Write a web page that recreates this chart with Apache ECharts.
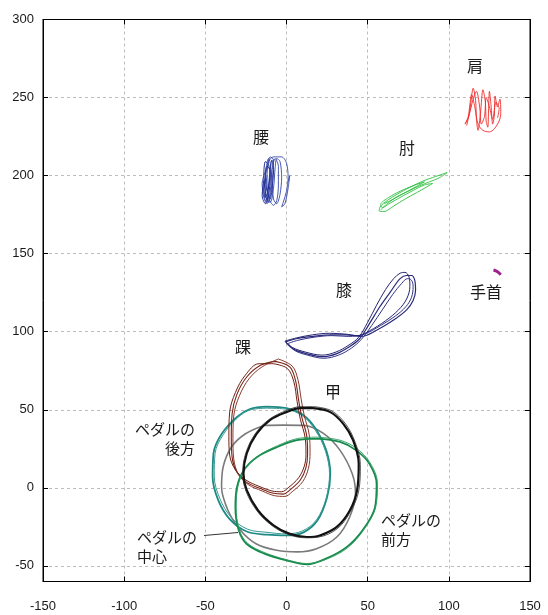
<!DOCTYPE html>
<html>
<head>
<meta charset="utf-8">
<script src="https://cdn.jsdelivr.net/npm/echarts@6/dist/echarts.min.js"></script>
<style>
  html, body { margin: 0; padding: 0; background: #fff; }
  #chart { width: 548px; height: 615px; }
</style>
</head>
<body>
<div id="chart"></div>
<script>
// Axis ticks
const xTicks = [-150, -100, -50, 0, 50, 100, 150];
const yTicks = [-50, 0, 50, 100, 150, 200, 250, 300];

// Joint trajectories over several pedal strokes, [x, y] in mm
const ankleA = [[-7,81],[2,77.5],[5.5,69],[7.5,56],[9.5,45],[12.5,33],[13,22],[12,13],[8.5,5],[2,-1.5],[-2,-4],[-8,-3.5],[-16,-0.5],[-24.5,3.5],[-30.5,10],[-33.5,19.5],[-34,32.5],[-33.5,47.5],[-30.5,60],[-24.5,71],[-16,78.5],[-7,81]];
const ankleB = [[-5,82.5],[3.5,78],[7,69.5],[9,57],[11,46],[14,34],[14.5,22.5],[13.5,12.5],[10,4],[3.5,-2.5],[-1,-5.5],[-7.5,-5],[-15,-2],[-23.5,2],[-29.5,8.5],[-32.5,18.5],[-33,31.5],[-32.5,46],[-29,59],[-23,70],[-15,77.5],[-5,82.5]];
const ankleC = [[-8,79.5],[0.5,76.5],[4.5,68],[6.5,55.5],[8.5,44],[11.5,32],[12,21.5],[11,14],[7.5,6.5],[1,0],[-3,-2.5],[-9,-2],[-17,1],[-25,5],[-31.5,11.5],[-35,21],[-35.5,33],[-35,48.5],[-31.5,61],[-25.5,72],[-17,79.5],[-8,79.5]];

const instepA = [[16.5,51],[27,48.5],[35,41],[41,30.5],[44.5,15.5],[43.5,-1.5],[39,-14.5],[31,-25],[20.5,-30.5],[12.5,-31.5],[2,-29.5],[-8,-24],[-17.5,-14.5],[-24.5,-1.5],[-26.5,9],[-24.5,22],[-18.5,34.5],[-10,43.5],[0,48.5],[8.5,51],[16.5,51]];
const instepB = [[17,52],[27.5,49.5],[36,41.5],[42,30],[45.5,15],[44.5,-2],[39.5,-15],[31.5,-26],[20,-31.5],[12,-32],[1.5,-30],[-8.5,-24.5],[-18,-15],[-25,-2],[-27,9.5],[-25,22.5],[-19,35],[-10.5,44],[0,49.5],[8.5,52],[17,52]];

const pedalRearA = [[-12,52],[0,51],[10.5,46.5],[18.5,37],[24.5,24],[27,9],[25,-6],[19,-21],[10.5,-28.5],[0,-30.5],[-12,-30],[-24.5,-28],[-35,-20],[-42,-8],[-45.5,7],[-45,22],[-40,34.5],[-30.5,45.5],[-22.5,50.5],[-12,52]];
const pedalRearB = [[-12,51],[-1,50.5],[10,46],[18,36.5],[24,23.5],[26.5,9],[24.5,-6.5],[18.5,-20.5],[10,-27.5],[0,-29.5],[-12,-28.5],[-24,-26.5],[-34,-19],[-41,-7],[-44.5,7.5],[-44,22],[-39,34],[-30,45],[-22,50],[-12,51]];

const pedalCenter = [[-14,40],[-2,40.2],[10.5,40],[22.5,35],[33,24],[40.5,9],[42.5,-3.5],[39,-18.5],[31,-31.5],[18.5,-39],[6.5,-41],[-6,-40],[-18.5,-36],[-28.5,-27],[-36,-14.5],[-40,0.5],[-39,13.5],[-34,26],[-25.5,34.5],[-14,40]];

const pedalFrontA = [[18.5,31.5],[33,29.4],[43,24],[51,15.5],[55.5,2.5],[54.5,-12.5],[47,-27],[37,-38],[25,-45],[12.5,-49],[0,-46.5],[-14,-42],[-24.5,-36],[-29.5,-27],[-31.5,-12.5],[-30.5,0.5],[-26.5,11],[-18.5,19.5],[-6,26],[6.5,30.5],[18.5,31.5]];
const pedalFrontB = [[18,32.5],[33,30.5],[43.5,25],[51.5,16],[56,3],[55,-12],[47.5,-27],[37.5,-38.5],[25,-45.5],[12.5,-48.5],[0,-46],[-13.5,-41.5],[-24,-35.5],[-29,-27],[-31,-12.5],[-30,0.5],[-26,11.5],[-18,20],[-5.5,27],[6.5,31.5],[18,32.5]];

const kneeA = [[-0.5,93.5],[4,89],[12,86],[22.5,84],[31,86],[39,90.5],[45,95.5],[51,105],[57.5,116],[64,125.5],[70,134],[74,136],[77,136],[79,133],[79.5,126.5],[78,120],[74,114],[66,107.5],[55.5,101],[46,97],[37,98],[27,98],[16.5,97],[6,95.5],[-0.5,93.5]];
const kneeB = [[1,92.5],[5,88],[13,85],[23,83],[32,85],[40,89.5],[46,95],[52.5,104],[59,114],[65.5,124],[71,131],[74.5,134],[77,133],[78,129],[77,122],[73.5,116],[67,110],[58,104],[48,98.5],[38,97],[28,97.5],[17,96.5],[7,94.5],[1,92.5]];
const kneeC = [[-1,94],[3.5,90],[11.5,87],[22,85],[30.5,87],[38.5,91.5],[44.5,96.5],[50,106],[55.5,117],[61,127],[66,134],[70,137.5],[73,138],[75.5,135],[76,129],[74,121],[69,114],[61,107],[51,100.5],[44,97.5],[36,98.5],[26.5,99],[16,98],[6,96],[-1,94]];

const waistA = [[-12,200],[-13,188],[-11,183],[-9,195],[-8,210],[-10,212],[-12,205],[-14,192],[-13,184],[-10,183],[-8,192],[-7,205],[-6,211],[-4,209],[-3,199],[-4,188],[-6,182],[-8,185],[-9,197],[-10,208],[-11,211],[-13,203],[-15,195],[-14,186],[-12,182],[-10,190],[-9,203],[-7,211],[-5,206],[-5,194],[-6,184],[-8,181],[-11,186],[-12,198],[-11,209],[-8,212],[-3,212],[0,208],[1,199],[0,190],[-2,183],[-3,180],[-1,182],[1,192],[2,200],[1,196]];
const waistB = [[-14,197],[-15,187],[-13,182],[-11,188],[-10,199],[-11,207],[-13,209],[-14,200],[-13,189],[-12,184],[-11,194],[-10,204],[-9,210],[-8,203],[-9,191],[-10,185],[-12,190],[-13,199],[-12,206],[-10,203],[-11,193],[-13,186],[-14,191],[-13,197]];

const elbow = [[58,178],[62,182],[68,186.5],[75,190],[82,193.5],[88,196],[94,198.5],[99,202],[92,199.5],[84,196.5],[76,192.5],[68,188],[62,184],[58,180.5],[57,177.5],[60,177],[66,180.5],[73,185],[80,189],[86,192.5],[90,195],[85,194],[78,190.5],[70,186],[64,182.5],[59,179.5],[58,181.5],[63,186],[70,190],[78,193.5],[85,196],[80,193],[72,188.5],[65,184.5],[60,182]];

const shoulder = [[111,232],[113,242],[115,256],[116.5,248],[117,236],[118,229],[119.5,240],[121,255],[122.5,247],[123,235],[124,231],[124.5,243],[125,254],[126,245],[127,233],[128,238],[128.5,251],[130,244],[131.5,249],[132,240],[131,235],[128,230],[125,228],[121,229],[118,233],[116,244],[114,252],[113,246],[112,238],[110,233],[112,237],[115,249],[117,254],[119,244],[120,233],[122,238],[123,250],[125,244],[127,236],[129,247],[131,243],[130,237]];

const wrist = [[127.5,139.5],[129,139],[130.5,138],[132,136.5]];

const axisFont = '"Liberation Sans Narrow", "Liberation Sans", Arial, sans-serif';
const cjkFont = '"Noto Sans CJK JP", sans-serif';

function trace(data, color, width, z, smooth) {
  return {
    type: 'line',
    data: data,
    showSymbol: false,
    symbol: 'none',
    smooth: smooth === undefined ? 0.35 : smooth,
    silent: true,
    z: z,
    lineStyle: { color: color, width: width }
  };
}

const series = [
  trace(pedalCenter, '#7a7a7a', 1.6, 2),
  trace(pedalRearA, '#1d8a84', 1.8, 3),
  trace(pedalRearB, '#3a9a94', 1.0, 3),
  trace(ankleA, '#7a2418', 1.1, 4),
  trace(ankleB, '#8a3a2c', 1.0, 4),
  trace(ankleC, '#6e2014', 1.0, 4),
  trace(pedalFrontA, '#168a4c', 1.8, 5),
  trace(pedalFrontB, '#2a9a5c', 0.9, 5),
  trace(instepA, '#111111', 2.2, 6),
  trace(instepB, '#2a2a2a', 0.8, 6),
  trace(kneeA, '#2a2a78', 1.2, 4),
  trace(kneeB, '#33338a', 1.0, 4),
  trace(kneeC, '#242470', 1.0, 4),
  trace(waistA, '#3446a8', 0.9, 4, 0.3),
  trace(waistB, '#22309a', 1.0, 4, 0.3),
  trace(elbow, '#2cc040', 0.9, 4, 0.3),
  trace(shoulder, '#f02a2a', 0.9, 4, 0.3),
  trace(wrist, '#a0208c', 3, 4, 0.3)
];

const gridLine = { show: true, lineStyle: { color: '#bdbdbd', type: [3, 3], width: 1 } };
const axisLineStyle = { show: true, onZero: false, lineStyle: { color: '#000', width: 1 } };

function label(text, x, y, align, size) {
  return {
    type: 'text',
    silent: true,
    z: 10,
    style: {
      text: text, x: x, y: y,
      font: (size || 15) + 'px ' + cjkFont,
      fill: '#1a1a1a',
      align: align, textAlign: align,
      verticalAlign: 'middle', textVerticalAlign: 'middle',
      lineHeight: 19
    }
  };
}

const chart = echarts.init(document.getElementById('chart'), null, { renderer: 'canvas' });
chart.setOption({
  animation: false,
  backgroundColor: '#fff',
  grid: { left: 43, right: 18, top: 19.5, bottom: 33.5, show: true, borderColor: '#000', borderWidth: 1, backgroundColor: 'transparent' },
  xAxis: [
    {
      type: 'value', min: -150, max: 150, interval: 50, position: 'bottom',
      axisLine: axisLineStyle,
      axisTick: { show: true, inside: true, length: 5, lineStyle: { color: '#000' } },
      axisLabel: { margin: 18, color: '#1a1a1a', fontFamily: axisFont, fontSize: 13, customValues: xTicks },
      splitLine: gridLine
    },
    {
      type: 'value', min: -150, max: 150, interval: 50, position: 'top',
      axisLine: axisLineStyle,
      axisTick: { show: true, inside: true, length: 5, lineStyle: { color: '#000' } },
      axisLabel: { show: false },
      splitLine: { show: false }
    }
  ],
  yAxis: [
    {
      type: 'value', min: -60, max: 300, splitNumber: 7, position: 'left',
      axisLine: axisLineStyle,
      axisTick: { show: true, inside: true, length: 5, customValues: yTicks, lineStyle: { color: '#000' } },
      axisLabel: { margin: 9, color: '#1a1a1a', fontFamily: axisFont, fontSize: 13, customValues: yTicks },
      splitLine: gridLine
    },
    {
      type: 'value', min: -60, max: 300, splitNumber: 7, position: 'right',
      axisLine: axisLineStyle,
      axisTick: { show: true, inside: true, length: 5, customValues: yTicks, lineStyle: { color: '#000' } },
      axisLabel: { show: false },
      splitLine: { show: false }
    }
  ],
  series: series,
  graphic: [
    label('肩', 475, 66, 'center', 16),
    label('肘', 407, 148, 'center', 16),
    label('腰', 261, 137, 'center', 16),
    label('膝', 344, 290, 'center', 16),
    label('手首', 486, 292, 'center', 16),
    label('踝', 243, 347, 'center', 16),
    label('甲', 333, 392, 'center', 16),
    label('ペダルの\n後方', 195, 439, 'right', 15),
    label('ペダルの\n中心', 137, 547, 'left', 15),
    label('ペダルの\n前方', 381, 530, 'left', 15),
    {
      type: 'line', silent: true, z: 10,
      shape: { x1: 204, y1: 535.5, x2: 238, y2: 532.5 },
      style: { stroke: '#333', lineWidth: 1 }
    }
  ]
});
</script>
</body>
</html>
